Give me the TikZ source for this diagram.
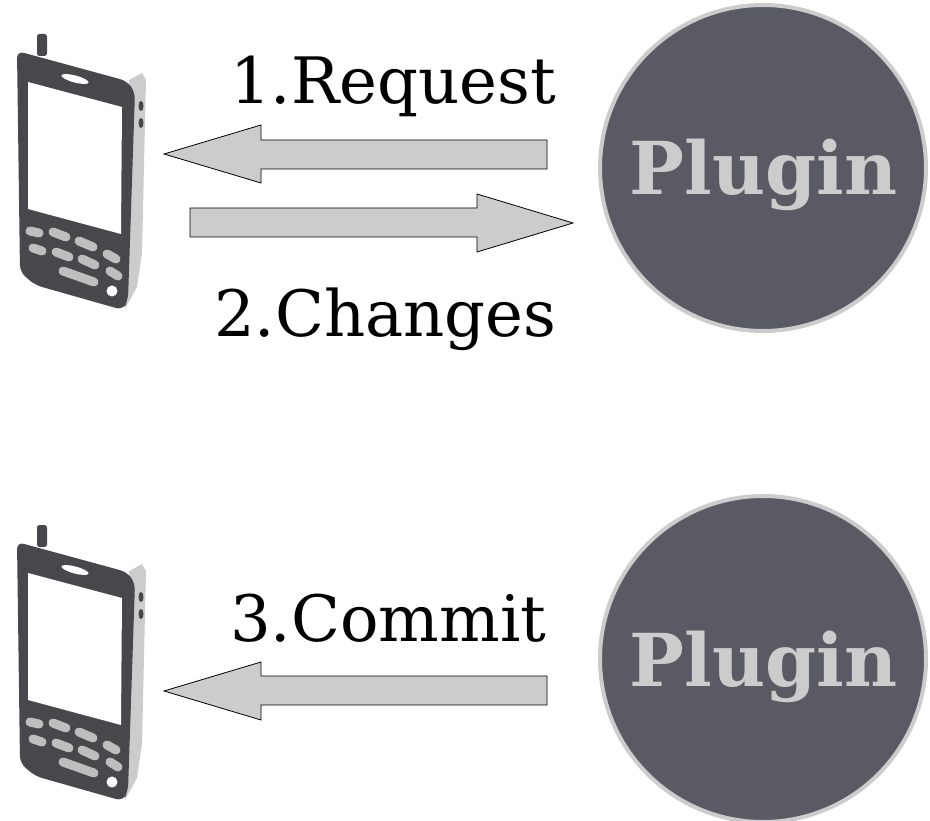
\documentclass[tikz,border=0pt]{standalone}
\usepackage{fontspec}
\setmainfont{DejaVu Serif}
\begin{document}
\begin{tikzpicture}[x=1pt,y=-1pt,
  phonedark/.style={fill=phonecol,draw=none},
  phonekey/.style={draw=keycol,line width=9pt,line cap=round},
  blockarrow/.style={draw=black,line width=0.8pt,fill=arrowcol,line join=miter},
  plugincircle/.style={circle,draw=arrowcol,line width=4pt,fill=plugincol,minimum size=326pt,inner sep=0pt},
  pluginlabel/.style={text=arrowcol,font=\fontsize{73}{73}\selectfont\bfseries,anchor=base,inner sep=0pt},
  steplabel/.style={text=black,font=\fontsize{64}{64}\selectfont,anchor=base west,inner sep=0pt},
  phone/.pic={
    \fill[fill=sidecol] (129,80) -- (142,73) -- (146,80) -- (142,253) -- (137,287) -- (125,309) -- cycle;
    \fill[phonedark,rounded corners=2.5pt] (37,34) rectangle (47,56);
    \fill[phonedark,rounded corners=7pt] (17,51) -- (127,81) -- (135,92) -- (128,300) -- (123,310) -- (35,285) -- (20,272) -- cycle;
    \fill[white] (28,82) -- (122,107) -- (121,234) -- (28,209) -- cycle;
    \fill[white,rotate around={-15:(75,79)}] (75,79) ellipse[x radius=14pt,y radius=3.5pt];
    \draw[phonekey] (30,231) -- (39,233);
    \draw[phonekey] (53,232) -- (66,237);
    \draw[phonekey] (79,241) -- (93,247);
    \draw[phonekey] (107,254) -- (116,259);
    \draw[phonekey] (33,248) -- (42,251);
    \draw[phonekey] (56,252) -- (69,257);
    \draw[phonekey] (82,259) -- (95,265);
    \draw[phonekey] (110,271) -- (118,276);
    \draw[phonekey] (63,271) -- (94,282);
    \fill[white] (112,291) circle[radius=5.5pt];
    \fill[phonedark] (141,106) ellipse[x radius=2.5pt,y radius=5pt];
    \fill[phonedark] (141,123) ellipse[x radius=2.5pt,y radius=5pt];
  }]
\definecolor{phonecol}{RGB}{72,72,76}
\definecolor{keycol}{RGB}{190,190,190}
\definecolor{sidecol}{RGB}{204,204,204}
\definecolor{arrowcol}{RGB}{204,204,204}
\definecolor{plugincol}{RGB}{90,90,100}
\useasboundingbox (0,0) rectangle (930,821);

\pic (phoneA) at (0,0) {phone};
\pic (phoneB) at (0,491) {phone};

\node[plugincircle] (pluginA) at (763,168) {};
\node[plugincircle] (pluginB) at (763,659) {};
\node[pluginlabel] (pluginAtext) at (763.5,195) {Plugin};
\node[pluginlabel] (pluginBtext) at (763.5,686) {Plugin};

\draw[blockarrow] (547,140) -- (261,140) -- (261,125) -- (164,154) -- (261,183) -- (261,169) -- (547,169) -- cycle;
\draw[blockarrow] (190,208) -- (477,208) -- (477,194) -- (573,223) -- (477,252) -- (477,237) -- (190,237) -- cycle;
\draw[blockarrow] (547,676) -- (261,676) -- (261,662) -- (164,691) -- (261,720) -- (261,705) -- (547,705) -- cycle;

\node[steplabel] (request) at (230,104) {1.Request};
\node[steplabel] (changes) at (214,337) {2.Changes};
\node[steplabel] (commit) at (230,641) {3.Commit};
\end{tikzpicture}
\end{document}
